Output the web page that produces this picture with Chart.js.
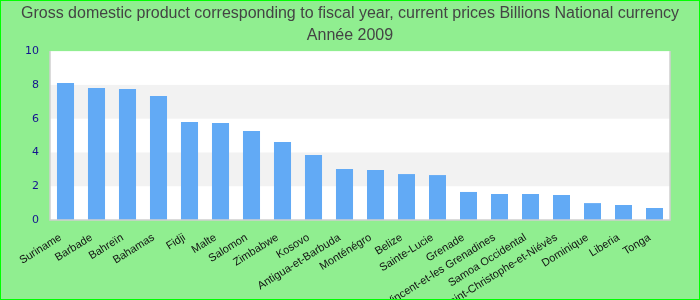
<!DOCTYPE html>
<html>
<head>
<meta charset="utf-8">
<script src="https://cdn.jsdelivr.net/npm/chart.js@4/dist/chart.umd.min.js"></script>
<style>
html,body{margin:0;padding:0;background:#90EE90;}
#wrap{width:700px;height:300px;position:relative;}
</style>
</head>
<body>
<div id="wrap"><canvas id="c" width="700" height="300"></canvas></div>
<script>
const titleLines = ["Gross domestic product corresponding to fiscal year, current prices Billions National currency", "Année 2009"];
const categories = ["Suriname", "Barbade", "Bahreïn", "Bahamas", "Fidji", "Malte", "Salomon", "Zimbabwe", "Kosovo", "Antigua-et-Barbuda", "Monténégro", "Belize", "Sainte-Lucie", "Grenade", "Saint-Vincent-et-les Grenadines", "Samoa Occidental", "Saint-Christophe-et-Niévès", "Dominique", "Liberia", "Tonga"];
const gdpValues = [8.11, 7.81, 7.75, 7.34, 5.80, 5.74, 5.27, 4.62, 3.85, 3.02, 2.96, 2.72, 2.66, 1.66, 1.54, 1.54, 1.48, 1.00, 0.89, 0.71];
const yTicks = [0, 2, 4, 6, 8, 10];
const bandRanges = [[2, 4], [6, 8]];

const decor = {
  id: 'decor',
  beforeDraw(chart) {
    const ctx = chart.ctx;
    ctx.save();
    ctx.fillStyle = '#90EE90';
    ctx.fillRect(0, 0, chart.width, chart.height);
    const a = chart.chartArea;
    const y = chart.scales.y;
    ctx.fillStyle = '#ffffff';
    ctx.fillRect(a.left, a.top, a.right - a.left, a.bottom - a.top);
    ctx.fillStyle = '#f2f2f2';
    bandRanges.forEach(([lo, hi]) => {
      const y1 = y.getPixelForValue(hi), y2 = y.getPixelForValue(lo);
      ctx.fillRect(a.left, y1, a.right - a.left, y2 - y1);
    });
    ctx.restore();
  },
  afterDraw(chart) {
    const ctx = chart.ctx;
    const a = chart.chartArea;
    ctx.save();
    ctx.strokeStyle = '#d0d0d0';
    ctx.lineWidth = 1.5;
    ctx.beginPath();
    ctx.moveTo(a.left, a.top);
    ctx.lineTo(a.left, a.bottom);
    ctx.lineTo(a.right, a.bottom);
    ctx.lineTo(a.right, a.top);
    ctx.stroke();
    ctx.strokeStyle = '#00ff00';
    ctx.lineWidth = 2;
    ctx.strokeRect(0, 0, chart.width, chart.height);
    ctx.restore();
  }
};

new Chart(document.getElementById('c'), {
  type: 'bar',
  data: {
    labels: categories,
    datasets: [{
      data: gdpValues,
      backgroundColor: '#62aaf5',
      borderWidth: 0,
      barPercentage: 0.55,
      categoryPercentage: 1.0
    }]
  },
  options: {
    responsive: false,
    animation: false,
    devicePixelRatio: 1,
    layout: { padding: 0 },
    plugins: {
      legend: { display: false },
      tooltip: { enabled: false },
      title: {
        display: true,
        text: titleLines,
        color: '#444444',
        font: { family: 'Liberation Sans', size: 16, weight: 'normal', lineHeight: 1.41 },
        padding: { top: 2, bottom: 4 }
      }
    },
    scales: {
      x: {
        grid: { display: false, drawTicks: false },
        border: { display: false },
        ticks: {
          color: '#111111',
          font: { family: 'Liberation Sans', size: 11 },
          minRotation: 32,
          maxRotation: 32,
          autoSkip: false,
          padding: 11,
          labelOffset: -5
        },
        afterFit(s) { s.height = 80; }
      },
      y: {
        min: 0,
        max: 10,
        afterBuildTicks(s) { s.ticks = yTicks.map(v => ({ value: v })); },
        grid: { display: false, drawTicks: false },
        border: { display: false },
        ticks: {
          color: '#14148f',
          font: { family: 'DejaVu Sans', size: 11 },
          padding: 11
        },
        afterFit(s) { s.width = 50; }
      },
      yRight: {
        position: 'right',
        display: true,
        min: 0,
        max: 10,
        grid: { display: false, drawTicks: false },
        border: { display: false },
        ticks: { display: false },
        afterFit(s) { s.width = 30; }
      }
    }
  },
  plugins: [decor]
});
</script>
</body>
</html>
